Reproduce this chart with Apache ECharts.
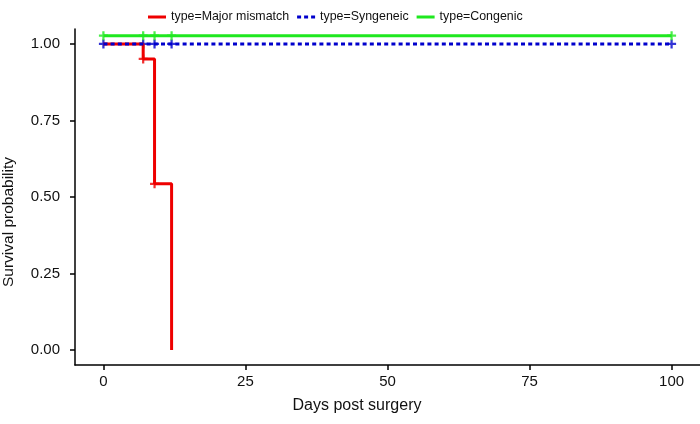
<!DOCTYPE html>
<html>
<head>
<meta charset="utf-8">
<script src="https://cdn.jsdelivr.net/npm/echarts@6/dist/echarts.min.js"></script>
<style>
html,body{margin:0;padding:0;background:#fff;}
#chart{width:700px;height:424px;}
</style>
</head>
<body>
<div id="chart"></div>
<script>
// ---- data ----
const groupNames = ['type=Major mismatch', 'type=Syngeneic', 'type=Congenic'];
// Kaplan-Meier step points [day, survival]
const majorSteps = [[0, 1.0], [7, 0.951], [9, 0.543], [12, 0.0]];
const syngeneicSteps = [[0, 1.0], [100, 1.0]];
const congenicSteps = [[0, 1.027], [100, 1.027]];
// censor marks [day, survival]
const majorCensors = [[7, 0.951], [9, 0.543]];
const syngeneicCensors = [[0, 1.0], [7, 1.0], [9, 1.0], [12, 1.0], [100, 1.0]];
const congenicCensors = [[0, 1.027], [7, 1.027], [9, 1.027], [12, 1.027], [100, 1.027]];
// axis ticks
const xTicks = [0, 25, 50, 75, 100];
const yTicks = [0, 0.25, 0.5, 0.75, 1.0];
const xTitle = 'Days post surgery';
const yTitle = 'Survival probability';

const colors = ['#ee0000', '#0000cc', '#1fe81f'];
const FONT = '"Liberation Sans", Arial, Helvetica, sans-serif';
const plus = 'path://M3,0H5V3H8V5H5V8H3V5H0V3H3Z';
const solidIcon = 'path://M0,0H18V3H0Z';
const dottedIcon = 'path://M0,0H4V3H0Z M7,0H11V3H7Z M14,0H18V3H14Z';

const chart = echarts.init(document.getElementById('chart'), null, {renderer: 'canvas'});

function stepSeries(name, data, color, dash) {
  return {
    name: name, type: 'line', step: 'end', data: data,
    symbol: 'none', silent: true, animation: false,
    lineStyle: {color: color, width: 3, type: dash || 'solid', cap: 'butt'},
    itemStyle: {color: color}
  };
}
function censorSeries(data, color) {
  return {
    type: 'scatter', data: data, symbol: plus, symbolSize: 9,
    silent: true, animation: false,
    itemStyle: {color: color}
  };
}

const option = {
  backgroundColor: '#ffffff',
  animation: false,
  textStyle: {fontFamily: FONT},
  grid: {left: 75, right: 0, top: 29, bottom: 59, containLabel: false},
  legend: {
    data: [
      {name: groupNames[0], icon: solidIcon},
      {name: groupNames[1], icon: dottedIcon},
      {name: groupNames[2], icon: solidIcon}
    ],
    left: 143, top: 6,
    itemWidth: 18, itemHeight: 3, itemGap: 8,
    textStyle: {fontFamily: FONT, fontSize: 12.4, color: '#111'},
    selectedMode: false
  },
  xAxis: {
    type: 'value', min: -5, max: 105,
    axisLine: {show: true, onZero: false, lineStyle: {color: '#000', width: 1.5}},
    axisTick: {show: true, length: 5, customValues: xTicks, lineStyle: {color: '#000', width: 1.5}},
    axisLabel: {customValues: xTicks, margin: 9, fontSize: 15, color: '#111', fontFamily: FONT},
    splitLine: {show: false}
  },
  yAxis: {
    type: 'value', min: -0.049, max: 1.049,
    axisLine: {show: true, onZero: false, lineStyle: {color: '#000', width: 1.5}},
    axisTick: {show: true, length: 5, customValues: yTicks, lineStyle: {color: '#000', width: 1.5}},
    axisLabel: {customValues: yTicks, margin: 15, fontSize: 15, color: '#111', fontFamily: FONT,
      formatter: v => v.toFixed(2)},
    splitLine: {show: false}
  },
  graphic: [
    {type: 'text', x: 357, y: 406, silent: true,
     style: {text: xTitle, font: '16px ' + FONT, fill: '#111', align: 'center', verticalAlign: 'middle'}},
    {type: 'text', x: 9, y: 222, rotation: Math.PI / 2, silent: true,
     style: {text: yTitle, font: '15.5px ' + FONT, fill: '#111', align: 'center', verticalAlign: 'middle'}}
  ],
  series: [
    stepSeries(groupNames[0], majorSteps, colors[0]),
    stepSeries(groupNames[1], syngeneicSteps, colors[1], [4, 3.2]),
    stepSeries(groupNames[2], congenicSteps, colors[2]),
    censorSeries(majorCensors, colors[0]),
    censorSeries(syngeneicCensors, colors[1]),
    censorSeries(congenicCensors, colors[2])
  ]
};
chart.setOption(option);
</script>
</body>
</html>
